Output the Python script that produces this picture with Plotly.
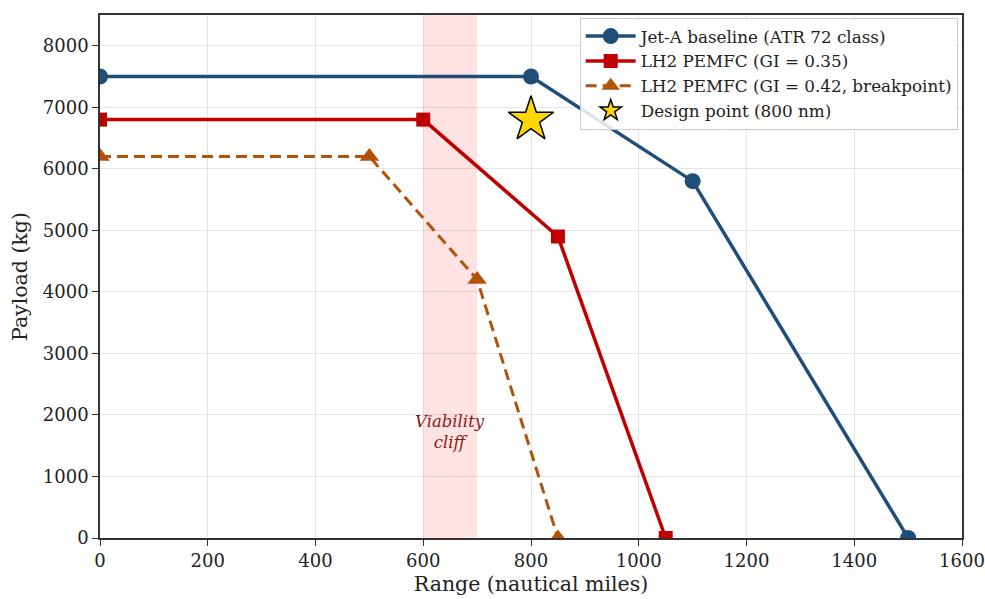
import plotly.graph_objects as go

# Data
jet_range = [0, 800, 1100, 1500]
jet_payload = [7500, 7500, 5800, 0]
lh35_range = [0, 600, 850, 1050]
lh35_payload = [6800, 6800, 4900, 0]
lh42_range = [0, 500, 700, 850]
lh42_payload = [6200, 6200, 4200, 0]
design_range = [800]
design_payload = [6800]
cliff_x0, cliff_x1 = 600, 700
x_ticks = [0, 200, 400, 600, 800, 1000, 1200, 1400, 1600]
y_ticks = [0, 1000, 2000, 3000, 4000, 5000, 6000, 7000, 8000]

FONT = "DejaVu Serif"
fig = go.Figure()

fig.add_trace(go.Scatter(x=jet_range, y=jet_payload, mode="lines+markers",
                         name="Jet-A baseline (ATR 72 class)",
                         line=dict(color="#1f4e79", width=3.5),
                         marker=dict(symbol="circle", size=16, color="#1f4e79")))
fig.add_trace(go.Scatter(x=lh35_range, y=lh35_payload, mode="lines+markers",
                         name="LH2 PEMFC (GI = 0.35)",
                         line=dict(color="#c00000", width=3.5),
                         marker=dict(symbol="square", size=14, color="#c00000")))
fig.add_trace(go.Scatter(x=lh42_range, y=lh42_payload, mode="lines+markers",
                         name="LH2 PEMFC (GI = 0.42, breakpoint)",
                         line=dict(color="#b35309", width=3, dash="11px,6px"),
                         marker=dict(symbol="triangle-up", size=17, color="#b35309")))
fig.add_trace(go.Scatter(x=design_range, y=design_payload, mode="markers",
                         name="Design point (800 nm)",
                         marker=dict(symbol="star", size=34, color="#FFD700",
                                     line=dict(color="black", width=1.5))))

fig.add_shape(type="rect", xref="x", yref="paper", x0=cliff_x0, x1=cliff_x1, y0=0, y1=1,
              fillcolor="rgba(255,0,0,0.11)", line=dict(width=0), layer="below")
fig.add_annotation(x=(cliff_x0 + cliff_x1) / 2, y=1720, text="<i>Viability<br>cliff</i>",
                   showarrow=False, font=dict(family=FONT, size=16.5, color="#8b1a1a"))

axis_common = dict(showline=True, linecolor="#333", linewidth=1.5, mirror=True,
                   ticks="outside", ticklen=6, tickcolor="#333",
                   showgrid=True, gridcolor="rgba(0,0,0,0.1)", gridwidth=1,
                   zeroline=False, automargin=False,
                   tickfont=dict(family=FONT, size=18, color="#222"))
fig.update_xaxes(range=[0, 1600], tickvals=x_ticks,
                 title=dict(text="Range (nautical miles)", font=dict(family=FONT, size=20.5, color="#222"), standoff=6),
                 **axis_common)
fig.update_yaxes(range=[0, 8500], tickvals=y_ticks,
                 title=dict(text="Payload (kg)", font=dict(family=FONT, size=20.5, color="#222"), standoff=10),
                 **axis_common)

fig.update_layout(
    width=985, height=599,
    margin=dict(l=100, r=23, t=15, b=61),
    plot_bgcolor="white", paper_bgcolor="white",
    font=dict(family=FONT, size=17, color="#222"),
    legend=dict(x=0.995, y=0.995, xanchor="right", yanchor="top",
                bgcolor="rgba(255,255,255,0.85)", bordercolor="#ccc", borderwidth=1,
                font=dict(family=FONT, size=16.8, color="#222"), tracegroupgap=0,
                itemwidth=50),
    showlegend=True,
)

fig.write_html("out.html", config={"displayModeBar": False},
               post_script="document.body.style.margin='0';document.body.style.overflow='hidden';")
